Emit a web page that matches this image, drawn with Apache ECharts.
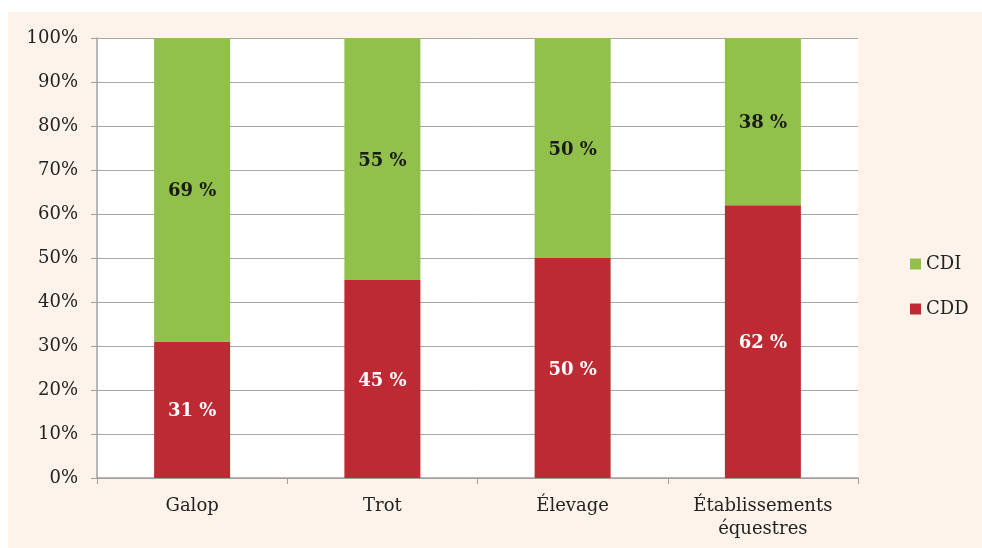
<!DOCTYPE html>
<html>
<head>
<meta charset="utf-8">
<script src="https://cdn.jsdelivr.net/npm/echarts@6/dist/echarts.min.js"></script>
<style>
  html, body { margin: 0; padding: 0; background: #ffffff; }
  #frame { position: absolute; left: 8px; top: 12px; width: 974px; height: 536px; background: #fdf3ea; }
  #chart { position: absolute; left: 0; top: 0; width: 982px; height: 548px; }
</style>
</head>
<body>
<div id="frame"></div>
<div id="chart"></div>
<script>
const categories = ['Galop', 'Trot', 'Élevage', 'Établissements\néquestres']
const cddValues = [31, 45, 50, 62]
const cdiValues = [69, 55, 50, 38]
const yTicks = [0, 10, 20, 30, 40, 50, 60, 70, 80, 90, 100]

const font = '"DejaVu Serif", "Liberation Serif", serif'
const chart = echarts.init(document.getElementById('chart'))

chart.setOption({
  backgroundColor: 'transparent',
  textStyle: { fontFamily: font },
  grid: { left: 97, right: 124, top: 38, bottom: 70, backgroundColor: '#ffffff', show: true, borderWidth: 0 },
  legend: {
    orient: 'vertical',
    left: 905,
    top: 250,
    itemWidth: 11,
    itemHeight: 11,
    itemGap: 27,
    icon: 'rect',
    textStyle: { fontFamily: font, fontSize: 18, color: '#222' },
    data: ['CDI', 'CDD'],
  },
  xAxis: {
    type: 'category',
    data: categories,
    axisLine: { lineStyle: { color: '#a0a0a0', width: 1.5 } },
    axisTick: { show: true, length: 6, lineStyle: { color: '#a0a0a0' } },
    axisLabel: { color: '#222', fontSize: 18, fontFamily: font, margin: 17, lineHeight: 23 },
  },
  yAxis: {
    type: 'value',
    min: yTicks[0],
    max: yTicks[yTicks.length - 1],
    interval: 10,
    axisLine: { show: true, lineStyle: { color: '#a0a0a0', width: 1.5 } },
    axisTick: { show: true, length: 6, lineStyle: { color: '#a0a0a0' } },
    splitLine: { lineStyle: { color: '#a6a6a6', width: 1 } },
    axisLabel: { color: '#222', fontSize: 18, fontFamily: font, margin: 19, formatter: '{value}%' },
  },
  series: [
    {
      name: 'CDD',
      type: 'bar',
      stack: 'total',
      barWidth: 76,
      data: cddValues,
      itemStyle: { color: '#be2a33' },
      label: { show: true, position: 'inside', offset: [0, 2], color: '#ffffff', fontWeight: 'bold', fontSize: 18, fontFamily: font, formatter: '{c} %' },
    },
    {
      name: 'CDI',
      type: 'bar',
      stack: 'total',
      barWidth: 76,
      data: cdiValues,
      itemStyle: { color: '#92c14b' },
      label: { show: true, position: 'inside', offset: [0, 2], color: '#1a1a1a', fontWeight: 'bold', fontSize: 18, fontFamily: font, formatter: '{c} %' },
    },
  ],
})
</script>
</body>
</html>
